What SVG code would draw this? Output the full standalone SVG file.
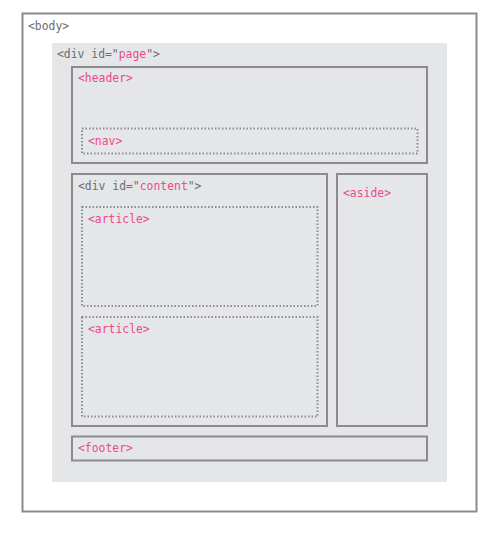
<svg xmlns="http://www.w3.org/2000/svg" width="497" height="535" viewBox="0 0 497 535">
<style>
.box{fill:none;stroke:#8b8b8f;stroke-width:2}
.dot{fill:none;stroke:#8b8b8f;stroke-width:2;stroke-dasharray:1.5 2}
text{font-family:"DejaVu Sans Mono","Liberation Mono",monospace;font-size:11.4px}
.g{fill:#6d6e71}
.p{fill:#ec4a8d}
</style>
<rect width="497" height="535" fill="#ffffff"/>
<g id="body">
<rect class="box" x="22.5" y="13.5" width="454" height="498"/>
<text class="g" x="28" y="29.5">&lt;body&gt;</text>
</g>
<g id="page">
<rect x="52" y="43" width="395" height="439" fill="#e5e6e8"/>
<text class="g" x="57" y="58">&lt;div id="<tspan class="p">page</tspan>"&gt;</text>
</g>
<g id="header">
<rect class="box" x="72" y="67" width="355" height="96"/>
<text class="p" x="78" y="82">&lt;header&gt;</text>
</g>
<g id="nav">
<rect class="dot" x="82" y="128.5" width="335.5" height="25"/>
<text class="p" x="88" y="144.5">&lt;nav&gt;</text>
</g>
<g id="content">
<rect class="box" x="72" y="174" width="255" height="252"/>
<text class="g" x="78" y="190">&lt;div id="<tspan class="p">content</tspan>"&gt;</text>
</g>
<g id="aside">
<rect class="box" x="337" y="174" width="90" height="252"/>
<text class="p" x="343" y="196.5">&lt;aside&gt;</text>
</g>
<g id="article1">
<rect class="dot" x="82" y="207" width="235.5" height="99"/>
<text class="p" x="88" y="222.5">&lt;article&gt;</text>
</g>
<g id="article2">
<rect class="dot" x="82" y="317" width="235.5" height="99.5"/>
<text class="p" x="88" y="333">&lt;article&gt;</text>
</g>
<g id="footer">
<rect class="box" x="72" y="436.5" width="355" height="24"/>
<text class="p" x="78" y="452">&lt;footer&gt;</text>
</g>
<g id="connectors"></g>
</svg>
